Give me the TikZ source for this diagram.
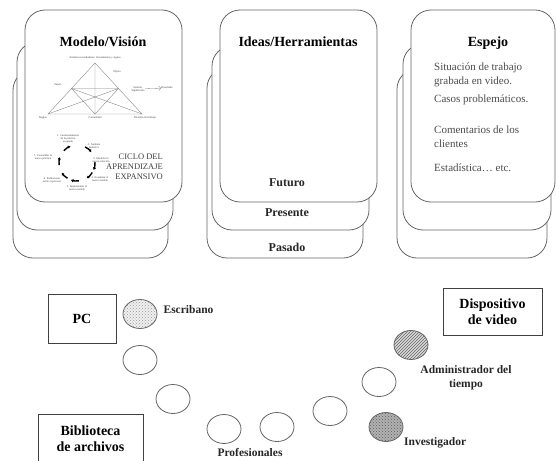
\documentclass[tikz,border=0pt]{standalone}
\usepackage{fontspec}
\setmainfont{Liberation Serif}
\usetikzlibrary{positioning, shapes, patterns, arrows.meta}
\tikzstyle{Card}=[draw=black!60, fill=white, rounded corners=20pt, line width=0.8pt]
\tikzstyle{Box}=[draw=black!75, line width=0.8pt, align=center, font=\fontsize{14}{16}\selectfont\bfseries]
\tikzstyle{Person}=[ellipse, draw=black!60, line width=0.8pt, minimum width=34pt, minimum height=29pt, inner sep=0pt]
\tikzstyle{Role}=[font=\fontsize{11.5}{14}\selectfont\bfseries, text=black!85, align=center, inner sep=1pt]
\tikzstyle{Title}=[font=\fontsize{14}{16}\selectfont\bfseries]
\tikzstyle{Time}=[font=\fontsize{12}{14}\selectfont\bfseries, text=black!85]
\tikzstyle{Item}=[font=\fontsize{11}{14}\selectfont, text=black!70, align=left, anchor=west, inner sep=0pt]
\tikzstyle{Tiny}=[font=\fontsize{2.8}{3.2}\selectfont, text=black!75, inner sep=0.3pt, align=center]
\tikzstyle{Tri}=[draw=black!50, line width=0.35pt]
\tikzstyle{Cyc}=[line width=1.4pt, -{Latex[length=2.6pt, width=3.4pt]}]

\begin{document}
\begin{tikzpicture}[x=1pt, y=-1pt, node distance=6pt]
	\useasboundingbox (0,0) rectangle (556,460);
	% las tres pilas de tarjetas
	\draw[Card] (13,70) rectangle (168,258);
	\draw[Card] (17,42) rectangle (173,230);
	\draw[Card] (25,10) rectangle (182,202);
	\draw[Card] (207,68) rectangle (363,258);
	\draw[Card] (212,46) rectangle (369,230);
	\draw[Card] (220,10) rectangle (377,202);
	\draw[Card] (397,69) rectangle (547,258);
	\draw[Card] (403,44) rectangle (551,230);
	\draw[Card] (411,10) rectangle (555,202);

	\node[Title] (modelo) at (103,42) {Modelo/Visión};
	\node[Title] (ideas) at (298,42) {Ideas/Herramientas};
	\node[Title] (espejo) at (488,43) {Espejo};

	% triangulo de la actividad
	\coordinate (apex) at (95,63);
	\coordinate (bl) at (48,114);
	\coordinate (br) at (142,114);
	\coordinate (lm) at (71.5,88.5);
	\coordinate (rm) at (118.5,88.5);
	\coordinate (bm) at (95,114);
	\draw[Tri] (apex) -- (bl) -- (br) -- cycle;
	\draw[Tri] (lm) -- (rm) -- (bm) -- cycle;
	\draw[Tri] (apex) -- (bm) (lm) -- (br) (rm) -- (bl);
	\node[Tiny] (artef) at (95,58) {Artefactos mediadores: herramientas y signos};
	\node[Tiny] (objeto) at (117,72) {Objeto};
	\node[Tiny] (sujeto) at (58,85) {Sujeto};
	\node[Tiny] (sentido) at (138,89) {Sentido,\\Significado};
	\node[Tiny] (result) at (167,88) {Resultado};
	\node[Tiny] (reglas) at (43,118) {Reglas};
	\node[Tiny] (comun) at (95,118) {Comunidad};
	\node[Tiny] (division) at (145,118) {División del trabajo};
	\draw[black!50, line width=0.3pt, ->] (sentido) -- (result);

	% ciclo
	\coordinate (ciclo) at (77,163);
	\foreach \a in {-50,10,45,97,135,186,236}
		\draw[Cyc] ([shift={(\a-13:18)}]ciclo) arc[start angle=\a-13, end angle=\a+13, radius=18];
	\node[Tiny] (c1) at (68,139) {1. Cuestionamiento\\de la práctica\\aceptada};
	\node[Tiny] (c2) at (94,146) {2. Análisis\\histórico};
	\node[Tiny] (c3) at (101,160) {3. Modelar la\\nueva solución};
	\node[Tiny] (c4) at (100,179) {4. Examinar el\\nuevo modelo};
	\node[Tiny] (c5) at (77,188) {5. Implementar el\\nuevo modelo};
	\node[Tiny] (c6) at (52,180) {6. Reflexionar\\sobre el proceso};
	\node[Tiny] (c7) at (43,157) {7. Consolidar la\\nueva práctica};
	\node[font=\fontsize{8.5}{10}\selectfont, text=black!75, align=right, anchor=east, inner sep=0pt] (cicloexp) at (163,167) {CICLO DEL\\APRENDIZAJE\\EXPANSIVO};

	% tiempos
	\node[Time] (futuro) at (287,183) {Futuro};
	\node[Time] (presente) at (287,213) {Presente};
	\node[Time] (pasado) at (287,247) {Pasado};

	% espejo
	\node[Item] (i1) at (434,75) {Situación de trabajo\\grabada en video.};
	\node[Item] (i2) at (434,100) {Casos problemáticos.};
	\node[Item] (i3) at (434,137) {Comentarios de los\\clientes};
	\node[Item] (i4) at (434,168) {Estadística… etc.};

	% laboratorio
	\node[Box, minimum width=68pt, minimum height=49pt] (pc) at (82,318.5) {PC};
	\node[Box, minimum width=105pt, minimum height=50pt] (biblio) at (90.5,439) {Biblioteca\\de archivos};
	\node[Box, minimum width=99pt, minimum height=47pt] (video) at (492.5,311.5) {Dispositivo\\de video};

	\node[Person, fill=black!6, postaction={pattern=crosshatch dots, pattern color=black!40}] (esc) at (140,314) {};
	\node[Person] (p2) at (140,360) {};
	\node[Person] (p3) at (173,399) {};
	\node[Person] (prof1) at (224,429) {};
	\node[Person] (prof2) at (277,427) {};
	\node[Person] (p6) at (330,411) {};
	\node[Person] (p7) at (379,382) {};
	\node[Person, fill=black!30, postaction={pattern=crosshatch dots, pattern color=black!65}] (inv) at (386,427) {};
	\node[Person, fill=black!15, postaction={pattern=north east lines, pattern color=black!60}] (adm) at (411,345) {};

	\node[Role, right=5pt of esc, yshift=4pt] (escribano) {Escribano};
	\node[Role] (profes) at (250,453) {Profesionales};
	\node[Role, anchor=west] (investig) at (403,443) {Investigador};
	\node[Role] (admin) at (466,378) {Administrador del\\tiempo};
\end{tikzpicture}
\end{document}
